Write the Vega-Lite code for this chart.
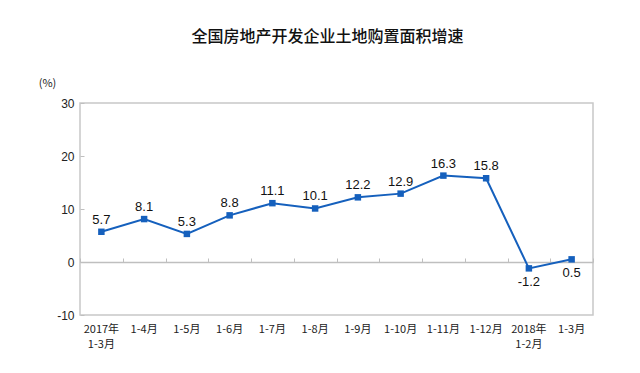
{
  "$schema": "https://vega.github.io/schema/vega-lite/v6.json",
  "autosize": {"type": "none"},
  "width": 513,
  "height": 212,
  "padding": {"left": 80, "top": 103, "right": 47, "bottom": 58},
  "title": {
    "text": "全国房地产开发企业土地购置面积增速",
    "font": "Noto Sans CJK SC",
    "fontSize": 16,
    "fontWeight": 500,
    "color": "#111111",
    "anchor": "middle",
    "offset": 32,
    "dx": -9
  },
  "data": {
    "values": [
      {"period": "2017年|1-3月", "value": 5.7},
      {"period": "1-4月", "value": 8.1},
      {"period": "1-5月", "value": 5.3},
      {"period": "1-6月", "value": 8.8},
      {"period": "1-7月", "value": 11.1},
      {"period": "1-8月", "value": 10.1},
      {"period": "1-9月", "value": 12.2},
      {"period": "1-10月", "value": 12.9},
      {"period": "1-11月", "value": 16.3},
      {"period": "1-12月", "value": 15.8},
      {"period": "2018年|1-2月", "value": -1.2},
      {"period": "1-3月", "value": 0.5}
    ]
  },
  "resolve": {"axis": {"x": "independent"}},
  "layer": [
    {
      "mark": {"type": "line", "color": "#1560bd", "strokeWidth": 2, "point": {"shape": "square", "size": 42, "filled": true, "color": "#1560bd"}},
      "encoding": {
        "x": {
          "field": "period", "type": "ordinal", "sort": null,
          "scale": {"type": "band", "paddingInner": 0, "paddingOuter": 0},
          "axis": {
            "orient": "bottom", "title": null, "labelAngle": 0,
            "labelExpr": "split(datum.label, '|')",
            "labelLineHeight": 15,
            "labelFont": "Noto Sans CJK SC", "labelFontSize": 11, "labelColor": "#222222",
            "ticks": false, "domain": false, "labelPadding": 8, "labelBaseline": "top"
          }
        },
        "y": {
          "field": "value", "type": "quantitative",
          "scale": {"domain": [-10, 30], "nice": false},
          "axis": {
            "values": [-10, 0, 10, 20, 30],
            "labelExpr": "'' + datum.value",
            "title": "(%)", "titleAngle": 0, "titleX": -33, "titleY": -20,
            "titleFont": "Noto Sans CJK SC", "titleFontSize": 11, "titleFontWeight": "normal", "titleColor": "#222222",
            "titleAlign": "center", "titleBaseline": "middle",
            "labelFont": "Liberation Sans", "labelFontSize": 12, "labelColor": "#222222",
            "labelPadding": 10, "ticks": true, "tickSize": -4, "tickColor": "#bfbfbf", "domain": false, "grid": false
          }
        }
      }
    },
    {
      "transform": [{"filter": "datum.value > 2"}],
      "mark": {"type": "text", "dy": -12, "font": "Liberation Sans", "fontSize": 13, "color": "#111111"},
      "encoding": {
        "x": {
          "field": "period", "type": "ordinal", "sort": null,
          "axis": {
            "orient": "top", "offset": -159, "labels": false, "title": null,
            "domain": true, "domainColor": "#bfbfbf", "domainWidth": 1.5,
            "ticks": true, "tickBand": "extent", "tickSize": 4, "tickColor": "#bfbfbf", "grid": false
          }
        },
        "y": {"field": "value", "type": "quantitative"},
        "text": {"field": "value", "type": "nominal"}
      }
    },
    {
      "transform": [{"filter": "datum.value <= 2"}],
      "mark": {"type": "text", "dy": 14, "font": "Liberation Sans", "fontSize": 13, "color": "#111111"},
      "encoding": {
        "x": {"field": "period", "type": "ordinal", "sort": null, "axis": null},
        "y": {"field": "value", "type": "quantitative"},
        "text": {"field": "value", "type": "nominal"}
      }
    }
  ],
  "config": {
    "view": {"stroke": "#c8c8c8", "strokeWidth": 1.5},
    "axis": {"grid": false}
  }
}
